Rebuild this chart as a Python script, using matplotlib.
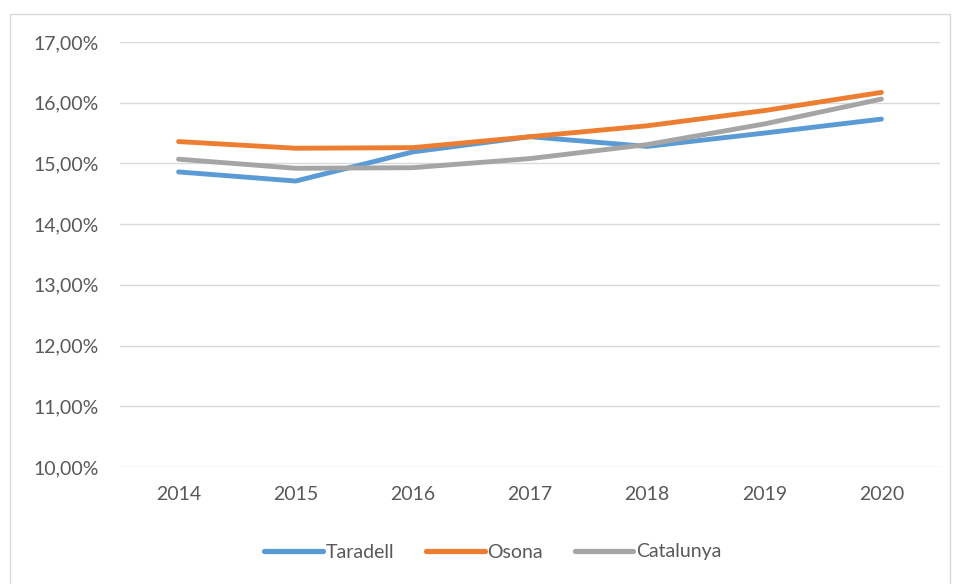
import matplotlib
matplotlib.use("Agg")
import matplotlib.pyplot as plt
from matplotlib.patches import Rectangle
from matplotlib.lines import Line2D

years = ["2014", "2015", "2016", "2017", "2018", "2019", "2020"]
taradell = [14.86, 14.71, 15.19, 15.44, 15.28, 15.50, 15.73]
osona = [15.36, 15.25, 15.26, 15.44, 15.62, 15.87, 16.17]
catalunya = [15.07, 14.92, 14.93, 15.08, 15.31, 15.65, 16.06]
yticks = [10, 11, 12, 13, 14, 15, 16, 17]

W, H = 956, 584
fig = plt.figure(figsize=(W / 100, H / 100), dpi=100)
plt.rcParams['font.family'] = ['Lato', 'DejaVu Sans']

# outer chart border
fig.patches.append(Rectangle((10 / W, -0.05), 940 / W, (H - 14) / H + 0.05,
                             transform=fig.transFigure, fill=False,
                             edgecolor='#D9D9D9', linewidth=1.0))

ax = fig.add_axes([120 / W, (H - 467) / H, 820 / W, (467 - 42) / H])
x = list(range(len(years)))
series = [(taradell, '#5B9BD5', 'Taradell'),
          (osona, '#ED7D31', 'Osona'),
          (catalunya, '#A5A5A5', 'Catalunya')]
for vals, c, lab in series:
    ax.plot(x, vals, color=c, linewidth=3.5, solid_capstyle='round',
            solid_joinstyle='round', label=lab, zorder=3)

ax.set_xlim(-0.5, len(years) - 0.5)
ax.set_ylim(10, 17)
ax.set_yticks(yticks)
ax.set_yticklabels([f"{v:.2f}".replace('.', ',') + "%" for v in yticks])
ax.set_xticks(x)
ax.set_xticklabels(years)
ax.grid(axis='y', color='#D9D9D9', linewidth=1.0, zorder=0)
ax.set_axisbelow(True)
for s in ax.spines.values():
    s.set_visible(False)
ax.tick_params(axis='both', length=0, labelsize=14, labelcolor='#595959')
ax.tick_params(axis='y', pad=15)
ax.tick_params(axis='x', pad=14)

handles = [Line2D([0], [0], color=c, linewidth=3.8, solid_capstyle='round')
           for _, c, _ in series]
fig.legend(handles, [s[2] for s in series], loc='center',
           bbox_to_anchor=(493 / W, (H - 552) / H), ncol=3, frameon=False,
           fontsize=14, labelcolor='#595959', handlelength=3.0,
           handletextpad=0.15, columnspacing=1.65)

fig.savefig("out.png", dpi=100)
